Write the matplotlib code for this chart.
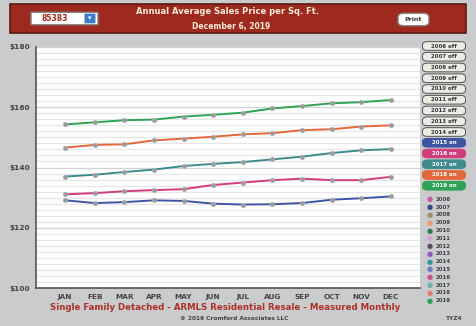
import matplotlib.pyplot as plt
from matplotlib.patches import FancyBboxPatch, Rectangle
import numpy as np

W, H = 476, 326

months = ["JAN", "FEB", "MAR", "APR", "MAY", "JUN",
          "JUL", "AUG", "SEP", "OCT", "NOV", "DEC"]

y2015 = [129.1, 128.2, 128.5, 129.1, 128.9, 128.0, 127.7, 127.8, 128.2, 129.3, 129.8, 130.4]
y2016 = [131.1, 131.5, 132.1, 132.5, 132.8, 134.2, 135.0, 135.8, 136.3, 135.8, 135.8, 136.9]
y2017 = [137.0, 137.6, 138.5, 139.3, 140.5, 141.2, 141.8, 142.7, 143.6, 144.8, 145.7, 146.1]
y2018 = [146.6, 147.5, 147.7, 149.0, 149.6, 150.2, 151.0, 151.4, 152.4, 152.7, 153.6, 154.0]
y2019 = [154.3, 155.0, 155.7, 155.9, 156.9, 157.5, 158.2, 159.6, 160.4, 161.3, 161.7, 162.4]

years = list(range(2006, 2020))
shown = {2015: "#3d55a3", 2016: "#cf3d7c", 2017: "#3f8a8c", 2018: "#e2683c", 2019: "#2ea356"}
series = {2015: y2015, 2016: y2016, 2017: y2017, 2018: y2018, 2019: y2019}
key_colors = ["#c85a9a", "#2e4a8a", "#a09060", "#e89a70", "#2f7a55", "#d8a0d8", "#5a4a6a",
              "#8a5ac8", "#2a9a9a", "#6a78c0", "#d0508a", "#6ab0b0", "#e07a70", "#2ea356"]

yticks = [100, 120, 140, 160, 180]


def fx(x):
    return x / W


def fy(y):
    return 1 - y / H


fig = plt.figure(figsize=(W / 100, H / 100), dpi=100)
fig.patch.set_facecolor("#c9cbcd")

# header band
fig.patches.append(Rectangle((fx(10), fy(33)), fx(456), 29 / H, transform=fig.transFigure,
                             facecolor="#9e2a1f", edgecolor="#5a1a14", lw=1.2))
fig.patches.append(FancyBboxPatch((fx(32), fy(24)), fx(65), 11 / H, transform=fig.transFigure,
                                  boxstyle="round,pad=0.002", facecolor="white", edgecolor="#888"))
fig.patches.append(FancyBboxPatch((fx(85), fy(23)), fx(10), 9 / H, transform=fig.transFigure,
                                  boxstyle="round,pad=0.001", facecolor="#3d7ac8", edgecolor="none"))
fig.text(fx(42), fy(18.5), "85383", fontsize=5.5, fontweight="bold", color="#9e2a1f", va="center")
fig.text(fx(90), fy(18.5), "\u25be", fontsize=5, color="white", ha="center", va="center")
fig.text(fx(228), fy(12), "Annual Average Sales Price per Sq. Ft.", fontsize=6, fontweight="bold",
         color="#f6ecd8", ha="center", va="center")
fig.text(fx(231), fy(26), "December 6, 2019", fontsize=5.5, fontweight="bold",
         color="#f6ecd8", ha="center", va="center")
fig.patches.append(FancyBboxPatch((fx(399), fy(25)), fx(29), 11 / H, transform=fig.transFigure,
                                  boxstyle="round,pad=0.002,rounding_size=0.012",
                                  facecolor="white", edgecolor="#888"))
fig.text(fx(413.5), fy(19.5), "Print", fontsize=4.5, fontweight="bold", color="#333",
         ha="center", va="center")

# chart
ax = fig.add_axes([fx(36), fy(288), (420 - 36) / W, (288 - 47) / H])
ax.set_facecolor("white")
x = np.arange(len(months))
for yv in range(100, 181, 2):
    ax.axhline(yv, color="#d2d2d2" if yv % 20 == 0 else "#e6e6e6", lw=0.9, zorder=0)
for yr in [2015, 2016, 2017, 2018, 2019]:
    ax.plot(x, series[yr], color=shown[yr], lw=1.4, zorder=2)
    ax.plot(x, series[yr], ls="none", marker="o", ms=3.3, mfc="#9a9a9a", mec="#b4b4b4",
            mew=0.4, zorder=3)
ax.set_xlim(-0.98, 11.98)
ax.set_ylim(100, 180)
ax.set_xticks(x)
ax.set_xticklabels(months)
ax.set_yticks(yticks)
ax.set_yticklabels(["$%d" % v for v in yticks])
ax.tick_params(length=0, labelsize=5.3, labelcolor="#444", pad=4)
for lab in ax.get_xticklabels() + ax.get_yticklabels():
    lab.set_fontweight("bold")
for s in ["top", "right"]:
    ax.spines[s].set_visible(False)
for s in ["left", "bottom"]:
    ax.spines[s].set_color("#555")
    ax.spines[s].set_linewidth(1.2)

# year toggle buttons
for i, yr in enumerate(years):
    cy = 46 + i * 10.75
    on = yr in shown
    fig.patches.append(FancyBboxPatch((fx(423), fy(cy + 4)), fx(42), 8 / H, transform=fig.transFigure,
                                      boxstyle="round,pad=0.001,rounding_size=0.01",
                                      facecolor=shown[yr] if on else "#ecece6",
                                      edgecolor=shown[yr] if on else "#555", lw=0.7))
    fig.text(fx(444), fy(cy), "%d %s" % (yr, "on" if on else "off"), fontsize=4,
             fontweight="bold", color="white" if on else "#333", ha="center", va="center")

# colour key
for i, yr in enumerate(years):
    cy = 199.3 + i * 7.8
    fig.text(fx(429.5), fy(cy), "\u25cf", fontsize=5, color=key_colors[i], ha="center", va="center")
    fig.text(fx(436), fy(cy), str(yr), fontsize=4, fontweight="bold", color="#444", va="center")

fig.text(fx(225), fy(308), "Single Family Detached - ARMLS Residential Resale - Measured Monthly",
         fontsize=6.2, fontweight="bold", color="#b03028", ha="center", va="center")
fig.text(fx(234), fy(318.5), "\u00a9 2019 Cromford Associates LLC", fontsize=4.2, fontweight="bold",
         color="#444", ha="center", va="center")
fig.text(fx(454), fy(318.5), "TYZ4", fontsize=4.2, fontweight="bold", color="#444",
         ha="center", va="center")

fig.savefig("out.png", dpi=100, facecolor=fig.get_facecolor())
